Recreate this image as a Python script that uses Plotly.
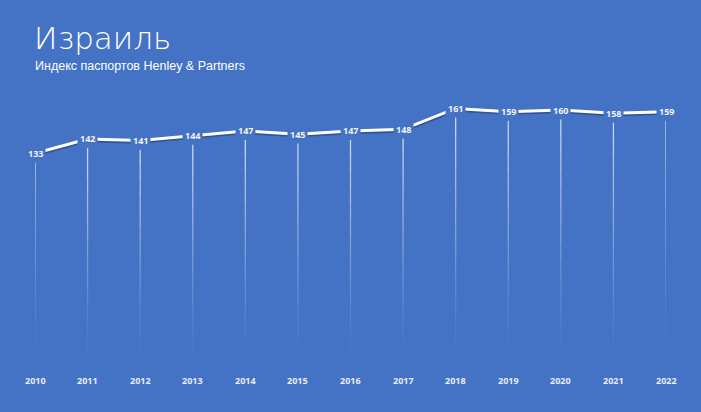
import plotly.graph_objects as go

years = [2010, 2011, 2012, 2013, 2014, 2015, 2016, 2017, 2018, 2019, 2020, 2021, 2022]
values = [133, 142, 141, 144, 147, 145, 147, 148, 161, 159, 160, 158, 159]
title_text = "Израиль"
subtitle_text = "Индекс паспортов Henley & Partners"

BG = "#4472C4"
W, H = 701, 412
ML, MR, MT, MB = 35, 35, 94, 45
YMAX = 170

fig = go.Figure()

# fading drop lines (simulated gradient)
shapes = []
nseg = 14
for x, v in zip(years, values):
    top = v - 5.5
    for i in range(nseg):
        y0 = top * (1 - i / nseg)
        y1 = top * (1 - (i + 1) / nseg)
        op = 0.75 * (1 - (i + 0.5) / nseg) ** 1.3
        shapes.append(dict(type="line", xref="x", yref="y", x0=x, x1=x, y0=y0, y1=y1,
                           line=dict(color=f"rgba(255,255,255,{op:.3f})", width=1.3)))

# shadow
fig.add_trace(go.Scatter(x=years, y=[v - 0.9 for v in values], mode="lines",
                         line=dict(color="rgba(20,30,60,0.35)", width=3.5),
                         hoverinfo="skip", showlegend=False))
fig.add_trace(go.Scatter(x=years, y=values, mode="lines",
                         line=dict(color="white", width=3),
                         hoverinfo="skip", showlegend=False))

annotations = []
for x, v in zip(years, values):
    annotations.append(dict(x=x, y=v, xref="x", yref="y", text=f"<b>{v}</b>",
                            showarrow=False, bgcolor=BG, borderpad=2,
                            font=dict(family="Open Sans", size=9, color="#F2F2F2")))
    annotations.append(dict(x=x, y=0, xref="x", yref="y", text=f"<b>{x}</b>",
                            showarrow=False, yshift=-13,
                            font=dict(family="Open Sans", size=9, color="#E8EDF7")))

annotations.append(dict(x=33, y=57, xref="paper" if False else "x domain", yref="paper",
                        text=title_text, showarrow=False, visible=False))

fig.update_layout(
    width=W, height=H,
    paper_bgcolor=BG, plot_bgcolor=BG,
    margin=dict(l=ML, r=MR, t=MT, b=MB),
    xaxis=dict(range=[years[0], years[-1]], visible=False, fixedrange=True),
    yaxis=dict(range=[0, YMAX], visible=False, fixedrange=True),
    shapes=shapes,
    annotations=[a for a in annotations if a.get("visible", True)],
    showlegend=False,
)

fig.add_annotation(text=title_text, xref="paper", yref="paper",
                   x=-3 / (W - ML - MR), xanchor="left",
                   y=1 + (MT - 58) / (H - MT - MB), yanchor="bottom",
                   showarrow=False,
                   font=dict(family="DejaVu Sans", size=31, color="white", weight=200))
fig.add_annotation(text=subtitle_text, xref="paper", yref="paper",
                   x=-2 / (W - ML - MR), xanchor="left",
                   y=1 + (MT - 75) / (H - MT - MB), yanchor="bottom",
                   showarrow=False,
                   font=dict(family="Liberation Sans", size=12.5, color="white"))

fig.write_html("out.html")
